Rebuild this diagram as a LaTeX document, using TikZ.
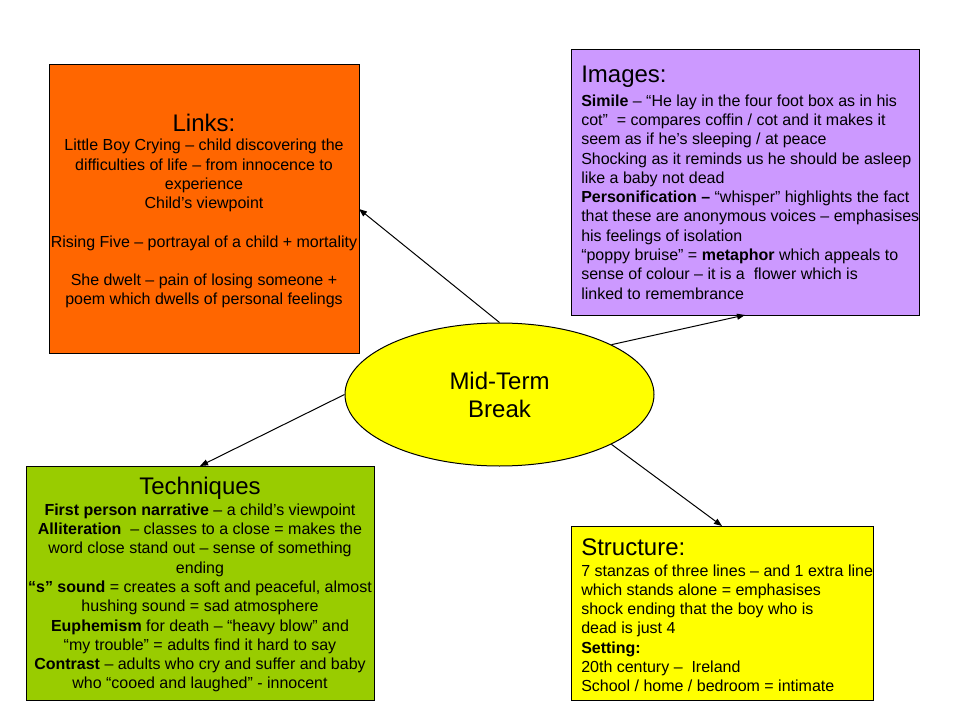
\documentclass[tikz,border=0pt]{standalone}
\usepackage{fontspec}
\setmainfont{Liberation Sans}
\usetikzlibrary{shapes.geometric,arrows.meta}
\definecolor{linkorange}{HTML}{FF6600}
\definecolor{imglilac}{HTML}{CC99FF}
\definecolor{techgreen}{HTML}{99CC00}
\definecolor{structyellow}{HTML}{FFFF00}
\begin{document}
\begin{tikzpicture}[x=0.75pt,y=-0.75pt,
  box/.style={draw=black, line width=0.75pt, anchor=north west, inner sep=0pt, outer sep=0pt},
  titletext/.style={inner sep=0pt, font=\fontsize{18}{21}\selectfont},
  bodytext/.style={inner sep=0pt, font=\fontsize{12}{14.45}\selectfont},
  linkarrow/.style={draw=black, line width=0.75pt, -{Triangle[length=6pt,width=4.5pt]}}]
\useasboundingbox (0,0) rectangle (960,720);
\fill[white] (0,0) rectangle (960,720);

% boxes
\node[box, fill=linkorange, minimum width=232.5pt, minimum height=216pt] (links) at (49,65) {};
\node[box, fill=imglilac, minimum width=261pt, minimum height=198.75pt] (images) at (571,50) {};
\node[box, fill=techgreen, minimum width=261pt, minimum height=175.5pt] (tech) at (26,466) {};
\node[box, fill=structyellow, minimum width=226.5pt, minimum height=130.5pt] (struct) at (571,526) {};

% centre ellipse
\node[ellipse, draw=black, line width=0.75pt, fill=structyellow, minimum width=231.75pt, minimum height=107.25pt, inner sep=0pt,
      align=center, font=\fontsize{18}{21}\selectfont] (mid) at (499.5,394.5) {Mid-Term\\Break};

% Links text
\node[titletext] (linkstitle) at (204,123) {Links:};
\node[bodytext, align=center] (linksbody) at (204,223.7) {Little Boy Crying – child discovering the\\
difficulties of life – from innocence to\\
experience\\
Child’s viewpoint\\[14.45pt]
Rising Five – portrayal of a child + mortality\\[14.45pt]
She dwelt – pain of losing someone +\\
poem which dwells of personal feelings};

% Images text
\node[titletext, anchor=west] (imagestitle) at (581,77) {Images:};
\node[bodytext, align=left, anchor=west] (imagesbody) at (581,197) {\textbf{Simile} – “He lay in the four foot box as in his\\
cot”~ = compares coffin / cot and it makes it\\
seem as if he’s sleeping / at peace\\
Shocking as it reminds us he should be asleep\\
like a baby not dead\\
\textbf{Personification –} “whisper” highlights the fact\\
that these are anonymous voices – emphasises\\
his feelings of isolation\\
“poppy bruise” = \textbf{metaphor} which appeals to\\
sense of colour – it is a~ flower which is\\
linked to remembrance};

% Techniques text
\node[titletext] (techtitle) at (200,488) {Techniques};
\node[bodytext, align=center] (techbody) at (200,598) {\textbf{First person narrative} – a child’s viewpoint\\
\textbf{Alliteration}~ – classes to a close = makes the\\
word close stand out – sense of something\\
ending\\
\textbf{“s” sound} = creates a soft and peaceful, almost\\
hushing sound = sad atmosphere\\
\textbf{Euphemism} for death – “heavy blow” and\\
“my trouble” = adults find it hard to say\\
\textbf{Contrast} – adults who cry and suffer and baby\\
who “cooed and laughed” - innocent};

% Structure text
\node[titletext, anchor=west] (structtitle) at (581,547) {Structure:};
\node[bodytext, align=left, anchor=west] (structbody) at (581,628.2) {7 stanzas of three lines – and 1 extra line\\
which stands alone = emphasises\\
shock ending that the boy who is\\
dead is just 4\\
\textbf{Setting:}\\
20th century –~ Ireland\\
School / home / bedroom = intimate};

% connectors
\draw[linkarrow] (mid.north) -- (links.east);
\draw[linkarrow] (mid.24.5) -- (images.south);
\draw[linkarrow] (mid.west) -- (tech.north);
\draw[linkarrow] (mid.-24.5) -- (struct.north);
\end{tikzpicture}
\end{document}
